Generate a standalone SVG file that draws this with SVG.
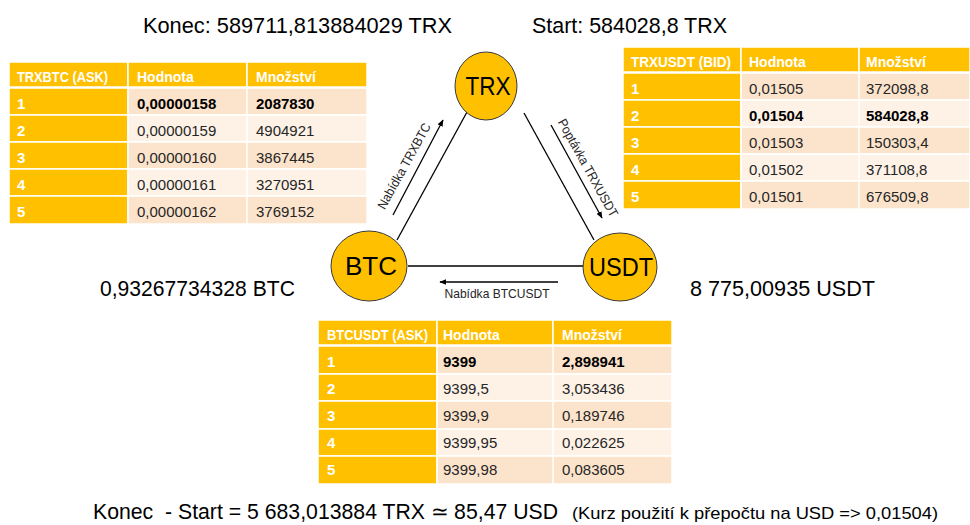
<svg xmlns="http://www.w3.org/2000/svg" width="970" height="525" viewBox="0 0 970 525">
<defs>
<marker id="ah" viewBox="0 0 10 10" refX="9" refY="5" markerWidth="7" markerHeight="7" orient="auto" markerUnits="userSpaceOnUse">
<path d="M0,1 L10,5 L0,9 z" fill="#000"/>
</marker>
</defs>
<style>
text{font-family:"Liberation Sans",Arial,sans-serif}
.big{font-size:22px;fill:#000}
.hd{fill:#FFC000;stroke:#fff;stroke-width:1.5}
.r1{fill:#FCE4CC;stroke:#fff;stroke-width:1.5}
.r2{fill:#FEF2E6;stroke:#fff;stroke-width:1.5}
.ht{font-size:14px;font-weight:bold;fill:#fff}
.nt{font-size:15px;font-weight:bold;fill:#fff}
.dt{font-size:15px;fill:#262626}
.b{font-weight:bold;fill:#000}
.node{fill:#FFC000;stroke:#3a3a3a;stroke-width:1}
.nl{font-size:26px;fill:#000;text-anchor:middle}
.edge{stroke:#000;stroke-width:1.3;fill:none}
.arr{stroke:#000;stroke-width:1.3;fill:none;marker-end:url(#ah)}
.lbl{font-size:13px;fill:#262626;text-anchor:middle}
</style>
<rect width="970" height="525" fill="#fff"/>

<text class="big" x="143" y="33" font-size="23" textLength="309" lengthAdjust="spacingAndGlyphs">Konec: 589711,813884029 TRX</text>
<text class="big" x="532" y="33" font-size="23" textLength="195" lengthAdjust="spacingAndGlyphs">Start: 584028,8 TRX</text>
<text class="big" x="100" y="296" textLength="195" lengthAdjust="spacingAndGlyphs">0,93267734328 BTC</text>
<text class="big" x="690" y="296" textLength="185" lengthAdjust="spacingAndGlyphs">8 775,00935 USDT</text>
<text class="big" x="93" y="519" style="white-space:pre" textLength="465" lengthAdjust="spacingAndGlyphs">Konec  - Start = 5 683,013884 TRX ≃ 85,47 USD</text>
<text x="572" y="519" font-size="17" fill="#000" textLength="366" lengthAdjust="spacingAndGlyphs">(Kurz použití k přepočtu na USD =&gt; 0,01504)</text>

<g id="table-trxbtc">
<rect class="hd" x="9" y="62" width="119" height="25"/>
<rect class="hd" x="128" y="62" width="119" height="25"/>
<rect class="hd" x="247" y="62" width="120" height="25"/>
<rect class="hd" x="9" y="88" width="119" height="27"/>
<rect class="hd" x="9" y="115" width="119" height="27"/>
<rect class="hd" x="9" y="142" width="119" height="27"/>
<rect class="hd" x="9" y="169" width="119" height="27"/>
<rect class="hd" x="9" y="196" width="119" height="28"/>
<rect class="r1" x="128" y="88" width="239" height="27"/>
<rect class="r2" x="128" y="115" width="239" height="27"/>
<rect class="r1" x="128" y="142" width="239" height="27"/>
<rect class="r2" x="128" y="169" width="239" height="27"/>
<rect class="r1" x="128" y="196" width="239" height="28"/>
<line x1="247" y1="88" x2="247" y2="224" stroke="#fff" stroke-width="1.5"/>
<text class="ht" x="17" y="82" textLength="91" lengthAdjust="spacingAndGlyphs">TRXBTC (ASK)</text>
<text class="ht" x="137" y="82">Hodnota</text>
<text class="ht" x="256" y="82">Množství</text>
<text class="nt" x="17" y="109">1</text>
<text class="nt" x="17" y="136">2</text>
<text class="nt" x="17" y="163">3</text>
<text class="nt" x="17" y="190">4</text>
<text class="nt" x="17" y="217">5</text>
<text class="dt b" x="137" y="109">0,00000158</text>
<text class="dt" x="137" y="136">0,00000159</text>
<text class="dt" x="137" y="163">0,00000160</text>
<text class="dt" x="137" y="190">0,00000161</text>
<text class="dt" x="137" y="217">0,00000162</text>
<text class="dt b" x="256" y="109">2087830</text>
<text class="dt" x="256" y="136">4904921</text>
<text class="dt" x="256" y="163">3867445</text>
<text class="dt" x="256" y="190">3270951</text>
<text class="dt" x="256" y="217">3769152</text>
</g>

<g id="table-trxusdt">
<rect class="hd" x="623" y="47" width="118" height="25"/>
<rect class="hd" x="741" y="47" width="118" height="25"/>
<rect class="hd" x="859" y="47" width="111" height="25"/>
<rect class="hd" x="623" y="73" width="118" height="27"/>
<rect class="hd" x="623" y="100" width="118" height="27"/>
<rect class="hd" x="623" y="127" width="118" height="27"/>
<rect class="hd" x="623" y="154" width="118" height="27"/>
<rect class="hd" x="623" y="181" width="118" height="28"/>
<rect class="r1" x="741" y="73" width="229" height="27"/>
<rect class="r2" x="741" y="100" width="229" height="27"/>
<rect class="r1" x="741" y="127" width="229" height="27"/>
<rect class="r2" x="741" y="154" width="229" height="27"/>
<rect class="r1" x="741" y="181" width="229" height="28"/>
<line x1="859" y1="73" x2="859" y2="209" stroke="#fff" stroke-width="1.5"/>
<text class="ht" x="631" y="67" textLength="100" lengthAdjust="spacingAndGlyphs">TRXUSDT (BID)</text>
<text class="ht" x="749" y="67">Hodnota</text>
<text class="ht" x="866" y="67">Množství</text>
<text class="nt" x="631" y="94">1</text>
<text class="nt" x="631" y="121">2</text>
<text class="nt" x="631" y="148">3</text>
<text class="nt" x="631" y="175">4</text>
<text class="nt" x="631" y="202">5</text>
<text class="dt" x="749" y="94">0,01505</text>
<text class="dt b" x="749" y="121">0,01504</text>
<text class="dt" x="749" y="148">0,01503</text>
<text class="dt" x="749" y="175">0,01502</text>
<text class="dt" x="749" y="202">0,01501</text>
<text class="dt" x="866" y="94">372098,8</text>
<text class="dt b" x="866" y="121">584028,8</text>
<text class="dt" x="866" y="148">150303,4</text>
<text class="dt" x="866" y="175">371108,8</text>
<text class="dt" x="866" y="202">676509,8</text>
</g>

<g id="table-btcusdt">
<rect class="hd" x="318" y="320" width="119" height="25"/>
<rect class="hd" x="437" y="320" width="116" height="25"/>
<rect class="hd" x="553" y="320" width="119" height="25"/>
<rect class="hd" x="318" y="346" width="119" height="28"/>
<rect class="hd" x="318" y="374" width="119" height="27"/>
<rect class="hd" x="318" y="401" width="119" height="28"/>
<rect class="hd" x="318" y="429" width="119" height="27"/>
<rect class="hd" x="318" y="456" width="119" height="28"/>
<rect class="r1" x="437" y="346" width="235" height="28"/>
<rect class="r2" x="437" y="374" width="235" height="27"/>
<rect class="r1" x="437" y="401" width="235" height="28"/>
<rect class="r2" x="437" y="429" width="235" height="27"/>
<rect class="r1" x="437" y="456" width="235" height="28"/>
<line x1="553" y1="346" x2="553" y2="484" stroke="#fff" stroke-width="1.5"/>
<text class="ht" x="327" y="340" textLength="101" lengthAdjust="spacingAndGlyphs">BTCUSDT (ASK)</text>
<text class="ht" x="443" y="340">Hodnota</text>
<text class="ht" x="562" y="340">Množství</text>
<text class="nt" x="327" y="367">1</text>
<text class="nt" x="327" y="394">2</text>
<text class="nt" x="327" y="421">3</text>
<text class="nt" x="327" y="448">4</text>
<text class="nt" x="327" y="475">5</text>
<text class="dt b" x="443" y="367">9399</text>
<text class="dt" x="443" y="394">9399,5</text>
<text class="dt" x="443" y="421">9399,9</text>
<text class="dt" x="443" y="448">9399,95</text>
<text class="dt" x="443" y="475">9399,98</text>
<text class="dt b" x="562" y="367">2,898941</text>
<text class="dt" x="562" y="394">3,053436</text>
<text class="dt" x="562" y="421">0,189746</text>
<text class="dt" x="562" y="448">0,022625</text>
<text class="dt" x="562" y="475">0,083605</text>
</g>

<g id="connectors">
<line class="edge" x1="467" y1="112" x2="397" y2="240"/>
<line class="edge" x1="524" y1="113" x2="594" y2="240"/>
<line class="edge" x1="408" y1="266" x2="584" y2="266"/>
<line class="arr" x1="393" y1="215" x2="443" y2="120"/>
<line class="arr" x1="551" y1="125" x2="602" y2="218"/>
<line class="arr" x1="558" y1="282" x2="440" y2="282"/>
<text class="lbl" transform="translate(404,166) rotate(-61)" y="4.5" textLength="96" lengthAdjust="spacingAndGlyphs">Nabídka TRXBTC</text>
<text class="lbl" transform="translate(588,168) rotate(61)" y="4.5" textLength="110" lengthAdjust="spacingAndGlyphs">Poptávka TRXUSDT</text>
<text class="lbl" x="497" y="298" textLength="105" lengthAdjust="spacingAndGlyphs">Nabídka BTCUSDT</text>
</g>

<g id="node-trx">
<ellipse class="node" cx="486" cy="86" rx="31" ry="34"/>
<text class="nl" x="488" y="95" textLength="45" lengthAdjust="spacingAndGlyphs">TRX</text>
</g>
<g id="node-btc">
<ellipse class="node" cx="369" cy="266" rx="38" ry="35"/>
<text class="nl" x="371" y="275" textLength="52" lengthAdjust="spacingAndGlyphs">BTC</text>
</g>
<g id="node-usdt">
<ellipse class="node" cx="620" cy="267" rx="37" ry="34"/>
<text class="nl" x="621" y="276" textLength="64" lengthAdjust="spacingAndGlyphs">USDT</text>
</g>
</svg>
